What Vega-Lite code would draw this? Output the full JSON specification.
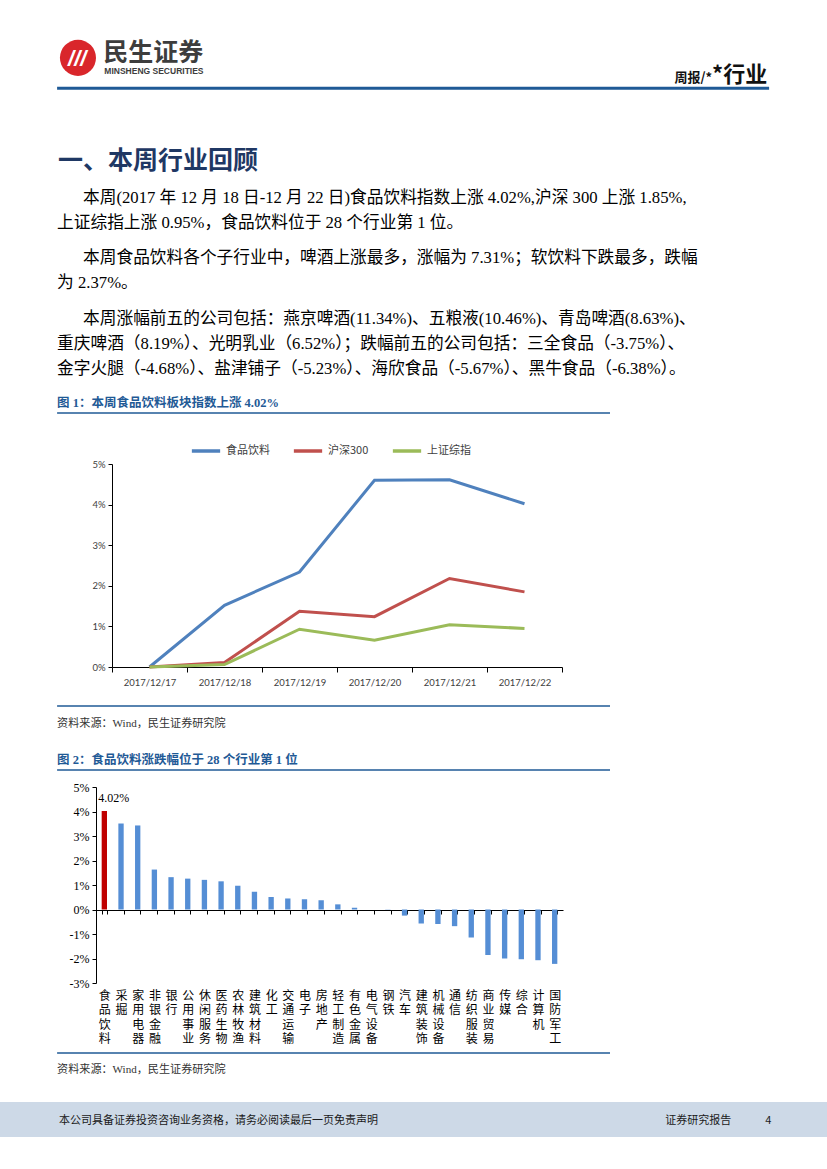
{
  "$schema": "https://vega.github.io/schema/vega-lite/v6.json",
  "width": 827,
  "height": 1169,
  "autosize": "none",
  "padding": 0,
  "background": "white",
  "config": {"view": {"stroke": null}, "axis": {"grid": false}, "font": "Noto Sans CJK SC"},
  "datasets": {
    "trend": [
      {"日期": "2017/12/17", "指数": "食品饮料", "涨幅": 0.0},
      {"日期": "2017/12/18", "指数": "食品饮料", "涨幅": 0.0152},
      {"日期": "2017/12/19", "指数": "食品饮料", "涨幅": 0.0234},
      {"日期": "2017/12/20", "指数": "食品饮料", "涨幅": 0.0460},
      {"日期": "2017/12/21", "指数": "食品饮料", "涨幅": 0.0461},
      {"日期": "2017/12/22", "指数": "食品饮料", "涨幅": 0.0402},
      {"日期": "2017/12/17", "指数": "沪深300", "涨幅": 0.0},
      {"日期": "2017/12/18", "指数": "沪深300", "涨幅": 0.0011},
      {"日期": "2017/12/19", "指数": "沪深300", "涨幅": 0.0137},
      {"日期": "2017/12/20", "指数": "沪深300", "涨幅": 0.0124},
      {"日期": "2017/12/21", "指数": "沪深300", "涨幅": 0.0218},
      {"日期": "2017/12/22", "指数": "沪深300", "涨幅": 0.0185},
      {"日期": "2017/12/17", "指数": "上证综指", "涨幅": 0.0},
      {"日期": "2017/12/18", "指数": "上证综指", "涨幅": 0.0006},
      {"日期": "2017/12/19", "指数": "上证综指", "涨幅": 0.0093},
      {"日期": "2017/12/20", "指数": "上证综指", "涨幅": 0.0066},
      {"日期": "2017/12/21", "指数": "上证综指", "涨幅": 0.0104},
      {"日期": "2017/12/22", "指数": "上证综指", "涨幅": 0.0095}
    ],
    "industry": [
      {"行业": "食品饮料", "涨跌幅": 0.0402},
      {"行业": "采掘", "涨跌幅": 0.0351},
      {"行业": "家用电器", "涨跌幅": 0.0343},
      {"行业": "非银金融", "涨跌幅": 0.0163},
      {"行业": "银行", "涨跌幅": 0.0132},
      {"行业": "公用事业", "涨跌幅": 0.0126},
      {"行业": "休闲服务", "涨跌幅": 0.0121},
      {"行业": "医药生物", "涨跌幅": 0.0115},
      {"行业": "农林牧渔", "涨跌幅": 0.0097},
      {"行业": "建筑材料", "涨跌幅": 0.0072},
      {"行业": "化工", "涨跌幅": 0.0051},
      {"行业": "交通运输", "涨跌幅": 0.0045},
      {"行业": "电子", "涨跌幅": 0.0042},
      {"行业": "房地产", "涨跌幅": 0.0038},
      {"行业": "轻工制造", "涨跌幅": 0.0021},
      {"行业": "有色金属", "涨跌幅": 0.0007},
      {"行业": "电气设备", "涨跌幅": 0.0},
      {"行业": "钢铁", "涨跌幅": -0.0001},
      {"行业": "汽车", "涨跌幅": -0.0025},
      {"行业": "建筑装饰", "涨跌幅": -0.0057},
      {"行业": "机械设备", "涨跌幅": -0.0059},
      {"行业": "通信", "涨跌幅": -0.0068},
      {"行业": "纺织服装", "涨跌幅": -0.0114},
      {"行业": "商业贸易", "涨跌幅": -0.0186},
      {"行业": "传媒", "涨跌幅": -0.0200},
      {"行业": "综合", "涨跌幅": -0.0203},
      {"行业": "计算机", "涨跌幅": -0.0207},
      {"行业": "国防军工", "涨跌幅": -0.0222}
    ]
  },
  "layer": [
    {
      "layer": [
        {
          "data": {"values": [{"区域": "页脚"}]},
          "mark": {"type": "rect", "color": "#cdd9e7"},
          "encoding": {
            "x": {"datum": 0, "type": "quantitative", "scale": {"domain": [0, 210], "range": [0, 827], "nice": false, "zero": false}, "axis": null},
            "x2": {"datum": 210},
            "y": {"datum": 280.0, "type": "quantitative", "scale": {"domain": [0, 297], "range": [0, 1169], "nice": false, "zero": false}, "axis": null},
            "y2": {"datum": 288.9}
          }
        },
        {
          "data": {"values": [{"标志": "民生证券"}]},
          "mark": {"type": "point", "shape": "circle", "filled": true, "size": 1300, "color": "#d9262b", "opacity": 1},
          "encoding": {
            "x": {"datum": 19.8, "type": "quantitative", "axis": null},
            "y": {"datum": 14.7, "type": "quantitative", "axis": null}
          }
        },
        {
          "data": {"values": [{"文本": "///"}]},
          "mark": {"type": "text", "color": "white", "fontSize": 22, "fontWeight": "bold", "fontStyle": "italic", "font": "Liberation Sans", "align": "center", "baseline": "middle"},
          "encoding": {
            "x": {"datum": 19.6, "type": "quantitative", "axis": null},
            "y": {"datum": 15.1, "type": "quantitative", "axis": null},
            "text": {"field": "文本", "type": "nominal"}
          }
        },
        {
          "data": {"values": [{"文本": "民生证券"}]},
          "mark": {"type": "text", "color": "#3d3d3d", "fontSize": 25, "fontWeight": "bold", "font": "Noto Sans CJK SC", "align": "left", "baseline": "middle"},
          "encoding": {
            "x": {"datum": 26.2, "type": "quantitative", "axis": null},
            "y": {"datum": 13.4, "type": "quantitative", "axis": null},
            "text": {"field": "文本", "type": "nominal"}
          }
        },
        {
          "data": {"values": [{"文本": "MINSHENG SECURITIES"}]},
          "mark": {"type": "text", "color": "#3d3d3d", "fontSize": 8.5, "fontWeight": "bold", "font": "Liberation Sans Narrow, Liberation Sans", "align": "left", "baseline": "middle"},
          "encoding": {
            "x": {"datum": 26.5, "type": "quantitative", "axis": null},
            "y": {"datum": 18.1, "type": "quantitative", "axis": null},
            "text": {"field": "文本", "type": "nominal"}
          }
        },
        {
          "data": {"values": [{"文本": "周报/*"}]},
          "mark": {"type": "text", "color": "#111111", "fontSize": 13, "fontWeight": "bold", "font": "Noto Sans CJK SC", "align": "right", "baseline": "alphabetic"},
          "encoding": {
            "x": {"datum": 180.8, "type": "quantitative", "axis": null},
            "y": {"datum": 20.9, "type": "quantitative", "axis": null},
            "text": {"field": "文本", "type": "nominal"}
          }
        },
        {
          "data": {"values": [{"文本": "*行业"}]},
          "mark": {"type": "text", "color": "#111111", "fontSize": 22, "fontWeight": "bold", "font": "Noto Sans CJK SC", "align": "left", "baseline": "alphabetic"},
          "encoding": {
            "x": {"datum": 180.8, "type": "quantitative", "axis": null},
            "y": {"datum": 20.9, "type": "quantitative", "axis": null},
            "text": {"field": "文本", "type": "nominal"}
          }
        },
        {
          "data": {"values": [{"线": "页眉"}]},
          "mark": {"type": "rule", "color": "#1f5a96", "strokeWidth": 3},
          "encoding": {
            "x": {"datum": 14.5, "type": "quantitative", "axis": null},
            "x2": {"datum": 195.3},
            "y": {"datum": 22.4, "type": "quantitative", "axis": null}
          }
        },
        {
          "data": {"values": [{"文本": "一、本周行业回顾"}]},
          "mark": {"type": "text", "color": "#1f3864", "fontSize": 25, "fontWeight": "bold", "font": "Noto Sans CJK SC", "align": "left", "baseline": "middle"},
          "encoding": {
            "x": {"datum": 14.7, "type": "quantitative", "axis": null},
            "y": {"datum": 40.8, "type": "quantitative", "axis": null},
            "text": {"field": "文本", "type": "nominal"}
          }
        },
        {
          "data": {"values": [{"文本": "本周(2017 年 12 月 18 日-12 月 22 日)食品饮料指数上涨 4.02%,沪深 300 上涨 1.85%,"}]},
          "mark": {"type": "text", "color": "#000000", "fontSize": 16.7, "font": "Liberation Serif, Noto Sans CJK SC", "align": "left", "baseline": "alphabetic"},
          "encoding": {
            "x": {"datum": 21.1, "type": "quantitative", "axis": null},
            "y": {"datum": 51.65, "type": "quantitative", "axis": null},
            "text": {"field": "文本", "type": "nominal"}
          }
        },
        {
          "data": {"values": [{"文本": "上证综指上涨 0.95%，食品饮料位于 28 个行业第 1 位。"}]},
          "mark": {"type": "text", "color": "#000000", "fontSize": 16.7, "font": "Liberation Serif, Noto Sans CJK SC", "align": "left", "baseline": "alphabetic"},
          "encoding": {
            "x": {"datum": 14.5, "type": "quantitative", "axis": null},
            "y": {"datum": 58.0, "type": "quantitative", "axis": null},
            "text": {"field": "文本", "type": "nominal"}
          }
        },
        {
          "data": {"values": [{"文本": "本周食品饮料各个子行业中，啤酒上涨最多，涨幅为 7.31%；软饮料下跌最多，跌幅"}]},
          "mark": {"type": "text", "color": "#000000", "fontSize": 16.7, "font": "Liberation Serif, Noto Sans CJK SC", "align": "left", "baseline": "alphabetic"},
          "encoding": {
            "x": {"datum": 21.1, "type": "quantitative", "axis": null},
            "y": {"datum": 66.9, "type": "quantitative", "axis": null},
            "text": {"field": "文本", "type": "nominal"}
          }
        },
        {
          "data": {"values": [{"文本": "为 2.37%。"}]},
          "mark": {"type": "text", "color": "#000000", "fontSize": 16.7, "font": "Liberation Serif, Noto Sans CJK SC", "align": "left", "baseline": "alphabetic"},
          "encoding": {
            "x": {"datum": 14.5, "type": "quantitative", "axis": null},
            "y": {"datum": 73.25, "type": "quantitative", "axis": null},
            "text": {"field": "文本", "type": "nominal"}
          }
        },
        {
          "data": {"values": [{"文本": "本周涨幅前五的公司包括：燕京啤酒(11.34%)、五粮液(10.46%)、青岛啤酒(8.63%)、"}]},
          "mark": {"type": "text", "color": "#000000", "fontSize": 16.7, "font": "Liberation Serif, Noto Sans CJK SC", "align": "left", "baseline": "alphabetic"},
          "encoding": {
            "x": {"datum": 21.1, "type": "quantitative", "axis": null},
            "y": {"datum": 82.4, "type": "quantitative", "axis": null},
            "text": {"field": "文本", "type": "nominal"}
          }
        },
        {
          "data": {"values": [{"文本": "重庆啤酒（8.19%）、光明乳业（6.52%）；跌幅前五的公司包括：三全食品（-3.75%）、\n金字火腿（-4.68%）、盐津铺子（-5.23%）、海欣食品（-5.67%）、黑牛食品（-6.38%）。"}]},
          "mark": {"type": "text", "color": "#000000", "fontSize": 16.7, "font": "Liberation Serif, Noto Sans CJK SC", "align": "left", "baseline": "alphabetic", "lineBreak": "\n", "lineHeight": 25},
          "encoding": {
            "x": {"datum": 14.5, "type": "quantitative", "axis": null},
            "y": {"datum": 88.75, "type": "quantitative", "axis": null},
            "text": {"field": "文本", "type": "nominal"}
          }
        },
        {
          "data": {"values": [{"文本": "图 1：本周食品饮料板块指数上涨 4.02%"}]},
          "mark": {"type": "text", "color": "#1f5a96", "fontSize": 12.5, "fontWeight": "bold", "font": "Liberation Serif, Noto Sans CJK SC", "align": "left", "baseline": "middle"},
          "encoding": {
            "x": {"datum": 14.5, "type": "quantitative", "axis": null},
            "y": {"datum": 102.4, "type": "quantitative", "axis": null},
            "text": {"field": "文本", "type": "nominal"}
          }
        },
        {
          "data": {"values": [{"线": "图1上"}]},
          "mark": {"type": "rule", "color": "#1f5a96", "strokeWidth": 1.5},
          "encoding": {
            "x": {"datum": 14.5, "type": "quantitative", "axis": null},
            "x2": {"datum": 154.9},
            "y": {"datum": 104.9, "type": "quantitative", "axis": null}
          }
        },
        {
          "data": {"values": [{"线": "图1下"}]},
          "mark": {"type": "rule", "color": "#1f5a96", "strokeWidth": 1.5},
          "encoding": {
            "x": {"datum": 14.5, "type": "quantitative", "axis": null},
            "x2": {"datum": 154.9},
            "y": {"datum": 179.4, "type": "quantitative", "axis": null}
          }
        },
        {
          "data": {"values": [{"文本": "资料来源：Wind，民生证券研究院"}]},
          "mark": {"type": "text", "color": "#333333", "fontSize": 11.1, "font": "Liberation Serif, Noto Sans CJK SC", "align": "left", "baseline": "middle"},
          "encoding": {
            "x": {"datum": 14.5, "type": "quantitative", "axis": null},
            "y": {"datum": 183.9, "type": "quantitative", "axis": null},
            "text": {"field": "文本", "type": "nominal"}
          }
        },
        {
          "data": {"values": [{"文本": "图 2：食品饮料涨跌幅位于 28 个行业第 1 位"}]},
          "mark": {"type": "text", "color": "#1f5a96", "fontSize": 12.5, "fontWeight": "bold", "font": "Liberation Serif, Noto Sans CJK SC", "align": "left", "baseline": "middle"},
          "encoding": {
            "x": {"datum": 14.5, "type": "quantitative", "axis": null},
            "y": {"datum": 193.1, "type": "quantitative", "axis": null},
            "text": {"field": "文本", "type": "nominal"}
          }
        },
        {
          "data": {"values": [{"线": "图2上"}]},
          "mark": {"type": "rule", "color": "#1f5a96", "strokeWidth": 1.5},
          "encoding": {
            "x": {"datum": 14.5, "type": "quantitative", "axis": null},
            "x2": {"datum": 154.9},
            "y": {"datum": 195.6, "type": "quantitative", "axis": null}
          }
        },
        {
          "data": {"values": [{"线": "图2下"}]},
          "mark": {"type": "rule", "color": "#1f5a96", "strokeWidth": 1.5},
          "encoding": {
            "x": {"datum": 14.5, "type": "quantitative", "axis": null},
            "x2": {"datum": 154.9},
            "y": {"datum": 267.5, "type": "quantitative", "axis": null}
          }
        },
        {
          "data": {"values": [{"文本": "资料来源：Wind，民生证券研究院"}]},
          "mark": {"type": "text", "color": "#333333", "fontSize": 11.1, "font": "Liberation Serif, Noto Sans CJK SC", "align": "left", "baseline": "middle"},
          "encoding": {
            "x": {"datum": 14.5, "type": "quantitative", "axis": null},
            "y": {"datum": 271.8, "type": "quantitative", "axis": null},
            "text": {"field": "文本", "type": "nominal"}
          }
        },
        {
          "data": {"values": [{"文本": "本公司具备证券投资咨询业务资格，请务必阅读最后一页免责声明"}]},
          "mark": {"type": "text", "color": "#1a1a1a", "fontSize": 11, "font": "Noto Sans CJK SC", "align": "left", "baseline": "middle"},
          "encoding": {
            "x": {"datum": 15.0, "type": "quantitative", "axis": null},
            "y": {"datum": 284.8, "type": "quantitative", "axis": null},
            "text": {"field": "文本", "type": "nominal"}
          }
        },
        {
          "data": {"values": [{"文本": "证券研究报告"}]},
          "mark": {"type": "text", "color": "#1a1a1a", "fontSize": 11, "font": "Noto Sans CJK SC", "align": "left", "baseline": "middle"},
          "encoding": {
            "x": {"datum": 168.9, "type": "quantitative", "axis": null},
            "y": {"datum": 284.8, "type": "quantitative", "axis": null},
            "text": {"field": "文本", "type": "nominal"}
          }
        },
        {
          "data": {"values": [{"文本": "4"}]},
          "mark": {"type": "text", "color": "#1a1a1a", "fontSize": 11, "font": "Noto Sans CJK SC", "align": "left", "baseline": "middle"},
          "encoding": {
            "x": {"datum": 194.3, "type": "quantitative", "axis": null},
            "y": {"datum": 284.8, "type": "quantitative", "axis": null},
            "text": {"field": "文本", "type": "nominal"}
          }
        }
      ]
    },
    {
      "data": {"name": "trend"},
      "mark": {"type": "line", "strokeWidth": 3},
      "encoding": {
        "x": {
          "field": "日期", "type": "ordinal", "sort": null, "bandPosition": 0.5,
          "scale": {"type": "band", "range": [112, 562], "paddingInner": 0, "paddingOuter": 0},
          "axis": {"orient": "bottom", "offset": -502, "title": null, "domainColor": "#000000", "domainWidth": 1, "tickColor": "#000000", "tickSize": 5, "tickBand": "extent", "labelFont": "Lato", "labelFontSize": 9.5, "labelColor": "#404040", "labelPadding": 5, "labelAngle": 0}
        },
        "y": {
          "field": "涨幅", "type": "quantitative",
          "scale": {"domain": [0, 0.05], "range": [667, 464], "nice": false, "zero": true},
          "axis": {"orient": "left", "offset": -112, "title": null, "values": [0, 0.01, 0.02, 0.03, 0.04, 0.05], "labelExpr": "round(datum.value * 100) + '%'", "domainColor": "#000000", "tickColor": "#000000", "tickSize": 4, "labelFont": "Lato", "labelFontSize": 9.5, "labelColor": "#404040", "labelPadding": 3}
        },
        "color": {
          "field": "指数", "type": "nominal",
          "sort": ["食品饮料", "沪深300", "上证综指"],
          "scale": {"domain": ["食品饮料", "沪深300", "上证综指"], "range": ["#4f81bd", "#c0504d", "#9bbb59"]},
          "legend": {"orient": "none", "legendX": 190, "legendY": 435, "direction": "horizontal", "title": null, "symbolType": "stroke", "symbolStrokeWidth": 3.5, "symbolSize": 800, "labelFont": "Noto Sans CJK SC", "labelFontSize": 11, "labelColor": "#404040", "columnPadding": 16, "labelOffset": 4}
        }
      }
    },
    {
      "data": {"name": "industry"},
      "layer": [
        {
          "mark": {"type": "bar"},
          "encoding": {
            "x": {
              "field": "行业", "type": "nominal", "sort": null,
              "scale": {"type": "band", "range": [96, 563], "paddingInner": 0.68, "paddingOuter": 0.34},
              "axis": {"orient": "bottom", "offset": -259, "title": null, "domainColor": "#000000", "tickColor": "#000000", "tickSize": 4, "tickBand": "extent", "labelExpr": "split(datum.label, '')", "labelAngle": 0, "labelAlign": "center", "labelBaseline": "top", "labelPadding": 76, "labelLineHeight": 14.5, "labelFontSize": 12, "labelColor": "#000000", "labelFont": "Noto Sans CJK SC", "labelOverlap": false, "labelBound": false}
            },
            "y": {
              "field": "涨跌幅", "type": "quantitative",
              "scale": {"domain": [-0.03, 0.05], "range": [983, 787], "nice": false},
              "axis": {"orient": "left", "offset": -96, "title": null, "values": [-0.03, -0.02, -0.01, 0, 0.01, 0.02, 0.03, 0.04, 0.05], "labelExpr": "round(datum.value * 100) + '%'", "domainColor": "#000000", "tickColor": "#000000", "tickSize": 4, "labelFont": "Liberation Serif", "labelFontSize": 12, "labelColor": "#000000", "labelPadding": 3}
            },
            "color": {"condition": {"test": "datum['行业'] === '食品饮料'", "value": "#c00000"}, "value": "#558ed5"}
          }
        },
        {
          "transform": [{"filter": "datum['行业'] === '食品饮料'"}],
          "mark": {"type": "text", "align": "left", "baseline": "middle", "dx": -6, "dy": -13, "font": "Liberation Serif", "fontSize": 12, "color": "#000000"},
          "encoding": {
            "x": {"field": "行业", "type": "nominal", "sort": null},
            "y": {"field": "涨跌幅", "type": "quantitative"},
            "text": {"field": "涨跌幅", "type": "quantitative", "format": ".2%"}
          }
        }
      ]
    }
  ],
  "resolve": {"scale": {"x": "independent", "y": "independent", "color": "independent"}}
}
